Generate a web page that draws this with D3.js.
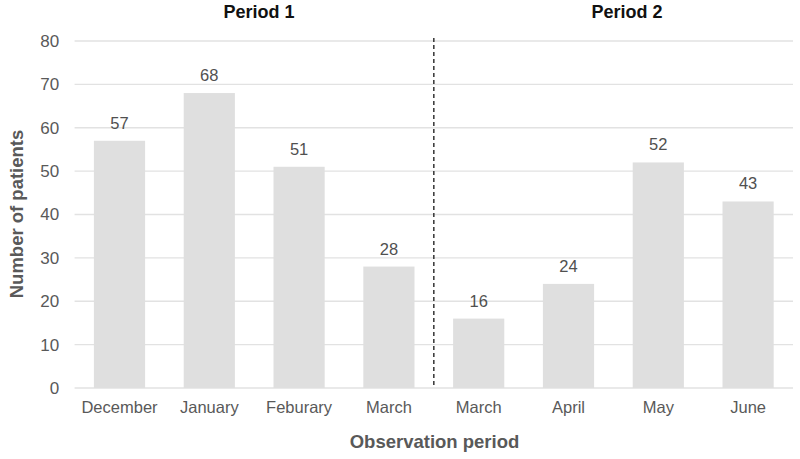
<!DOCTYPE html>
<html><head><meta charset="utf-8">
<script src="https://cdn.jsdelivr.net/npm/d3@7"></script>
<style>body{margin:0;background:#fff}svg{display:block;font-family:"Liberation Sans",Arial,sans-serif}</style>
</head><body>
<svg id="c" width="800" height="459"></svg>
<script>
const categories = ["December","January","Feburary","March","March","April","May","June"];
const values = [57,68,51,28,16,24,52,43];
const periods = ["Period 1","Period 2"];
const yTicks = [0,10,20,30,40,50,60,70,80];

(function(){
const svg = d3.select("#c");
const pL = 74.6, pR = 793, pT = 41, pB = 388;
const ids = categories.map((c,i)=>i);
const x = d3.scaleBand().domain(ids).range([pL,pR]).paddingInner(0.43).paddingOuter(0.215);
const y = d3.scaleLinear().domain([0,80]).range([pB,pT]);

svg.append("g").selectAll("line").data(yTicks).join("line")
  .attr("x1",pL).attr("x2",pR)
  .attr("y1",d=>y(d)).attr("y2",d=>y(d))
  .attr("stroke","#e2e2e2").attr("stroke-width",1.3);

const ya = svg.append("g").attr("transform",`translate(${pL},0)`)
  .call(d3.axisLeft(y).tickValues(yTicks).tickSize(0).tickPadding(15.5));
ya.select(".domain").remove();
ya.selectAll("text").attr("font-size",17).attr("fill","#595959").attr("font-family","Liberation Sans, Arial, sans-serif");

svg.append("g").selectAll("rect").data(values).join("rect")
  .attr("x",(d,i)=>x(i)).attr("width",x.bandwidth())
  .attr("y",d=>y(d)).attr("height",d=>pB-y(d))
  .attr("fill","#dfdfdf");

svg.append("g").selectAll("text").data(values).join("text")
  .attr("x",(d,i)=>x(i)+x.bandwidth()/2).attr("y",d=>y(d)-12)
  .attr("text-anchor","middle").attr("font-size",16.5).attr("fill","#505050")
  .text(d=>d);

const xa = svg.append("g").attr("transform",`translate(0,${pB})`)
  .call(d3.axisBottom(x).tickFormat(i=>categories[i]).tickSize(0).tickPadding(13.5));
xa.select(".domain").remove();
xa.selectAll("text").attr("font-size",16.5).attr("fill","#595959").attr("font-family","Liberation Sans, Arial, sans-serif");

const divX = (x(3)+x.bandwidth()+x(4))/2;
svg.append("line").attr("x1",divX).attr("x2",divX).attr("y1",pT-3).attr("y2",pB)
  .attr("stroke","#404040").attr("stroke-width",1.6).attr("stroke-dasharray","4,3");

svg.append("text").attr("x",259).attr("y",18).attr("text-anchor","middle")
  .attr("font-size",18).attr("font-weight","bold").attr("fill","#111").text(periods[0]);
svg.append("text").attr("x",627).attr("y",18).attr("text-anchor","middle")
  .attr("font-size",18).attr("font-weight","bold").attr("fill","#111").text(periods[1]);

svg.append("text").attr("x",434.5).attr("y",448).attr("text-anchor","middle")
  .attr("font-size",18.5).attr("font-weight","bold").attr("fill","#595959").text("Observation period");
svg.append("text").attr("transform","translate(23,214) rotate(-90)").attr("text-anchor","middle")
  .attr("font-size",18.5).attr("font-weight","bold").attr("fill","#595959").text("Number of patients");
})();
</script>
</body></html>
